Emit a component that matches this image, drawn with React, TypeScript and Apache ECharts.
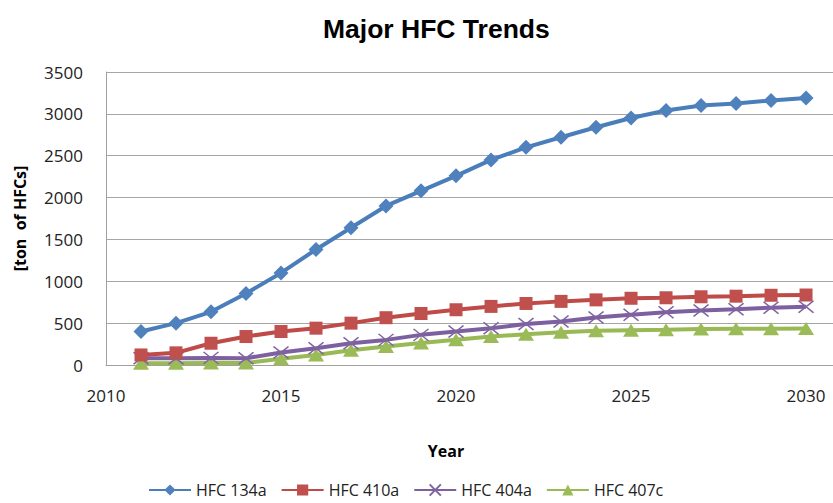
import React, { useEffect, useRef } from "react";
import * as echarts from "echarts";

const years = [2011, 2012, 2013, 2014, 2015, 2016, 2017, 2018, 2019, 2020, 2021, 2022, 2023, 2024, 2025, 2026, 2027, 2028, 2029, 2030];
const hfc134a = [400, 500, 635, 855, 1100, 1380, 1640, 1900, 2080, 2260, 2450, 2600, 2720, 2840, 2950, 3040, 3100, 3125, 3160, 3190];
const hfc410a = [120, 145, 260, 340, 400, 440, 500, 565, 615, 660, 700, 735, 760, 778, 797, 803, 815, 822, 833, 836];
const hfc404a = [80, 80, 85, 80, 150, 200, 260, 300, 360, 400, 440, 490, 520, 568, 600, 630, 650, 667, 685, 697];
const hfc407c = [20, 20, 25, 25, 75, 120, 175, 220, 263, 302, 340, 368, 390, 408, 415, 422, 430, 432, 434, 436];
const seriesNames = ["HFC 134a", "HFC 410a", "HFC 404a", "HFC 407c"];
const yTicks = { min: 0, max: 3500, interval: 500 };
const xTicks = { min: 2010, max: 2030.77, interval: 5 };

const FONT = "'Open Sans', 'Noto Sans', sans-serif";

export default function App() {
  const ref = useRef<HTMLDivElement>(null);
  useEffect(() => {
    document.body.style.margin = "0";
    if (!ref.current) return;
    const chart = echarts.init(ref.current, null, { renderer: "svg" });
    const toPairs = (vals: number[]) => years.map((y, i) => [y, vals[i]]);
    const mk = (name: string, vals: number[], lineColor: string, markColor: string, symbol: string, size: any, extra: any = {}) => ({
      name,
      type: "line",
      data: toPairs(vals),
      symbol,
      symbolSize: size,
      showAllSymbol: true,
      lineStyle: { color: lineColor, width: 4 },
      itemStyle: { color: markColor, ...(extra.itemStyle || {}) },
      z: extra.z || 2,
    });
    chart.setOption({
      animation: false,
      backgroundColor: "#ffffff",
      title: {
        text: "Major HFC Trends",
        left: 318,
        top: 10,
        textStyle: { fontFamily: "'Liberation Sans', Arial, sans-serif", fontWeight: "bold", fontSize: 26.5, color: "#000" },
      },
      grid: { left: 106, right: 0, top: 72, bottom: 138, containLabel: false },
      legend: {
        left: 143,
        top: 476,
        itemWidth: 42,
        itemHeight: 14,
        itemGap: 14,
        textStyle: { fontFamily: FONT, fontSize: 16, color: "#222", lineHeight: 18 },
        data: seriesNames,
      },
      xAxis: {
        type: "value",
        min: xTicks.min,
        max: xTicks.max,
        interval: xTicks.interval,
        name: "Year",
        nameLocation: "middle",
        nameGap: 78,
        nameTextStyle: { fontFamily: FONT, fontWeight: "bold", fontSize: 16, color: "#000", padding: [0, 47, 0, 0] },
        axisLine: { show: true, lineStyle: { color: "#a0a0a0", width: 1 } },
        axisTick: { show: false },
        splitLine: { show: false },
        axisLabel: {
          margin: 22,
          fontFamily: FONT,
          fontSize: 17,
          color: "#222",
          showMaxLabel: false,
          formatter: (v: number) => (Math.abs(v % 5) < 1e-6 ? String(Math.round(v)) : ""),
        },
      },
      yAxis: {
        type: "value",
        min: yTicks.min,
        max: yTicks.max,
        interval: yTicks.interval,
        name: "[ton  of HFCs]",
        nameLocation: "middle",
        nameGap: 78,
        nameRotate: 90,
        nameTextStyle: { fontFamily: FONT, fontWeight: "bold", fontSize: 16, color: "#000" },
        axisLine: { show: true, lineStyle: { color: "#a0a0a0", width: 1 } },
        axisTick: { show: false },
        splitLine: { show: true, lineStyle: { color: "#a6a6a6", width: 1.2 } },
        axisLabel: { margin: 23, fontFamily: FONT, fontSize: 17, color: "#222", formatter: (v: number) => String(v) },
      },
      series: [
        mk(seriesNames[0], hfc134a, "#4A7EBB", "#4F81BD", "diamond", 15, { z: 5 }),
        mk(seriesNames[1], hfc410a, "#BE4B48", "#C0504D", "rect", 13, { z: 4 }),
        mk(seriesNames[2], hfc404a, "#7D60A0", "#8064A2", "path://M0,0L14,11M14,0L0,11", [15, 12], {
          z: 3,
          itemStyle: { color: "rgba(0,0,0,0)", borderColor: "#8064A2", borderWidth: 1.5 },
        }),
        mk(seriesNames[3], hfc407c, "#98B954", "#9BBB59", "triangle", [16, 13], { z: 2 }),
      ],
    });
    return () => chart.dispose();
  }, []);
  return <div ref={ref} style={{ width: 833, height: 503 }} />;
}
